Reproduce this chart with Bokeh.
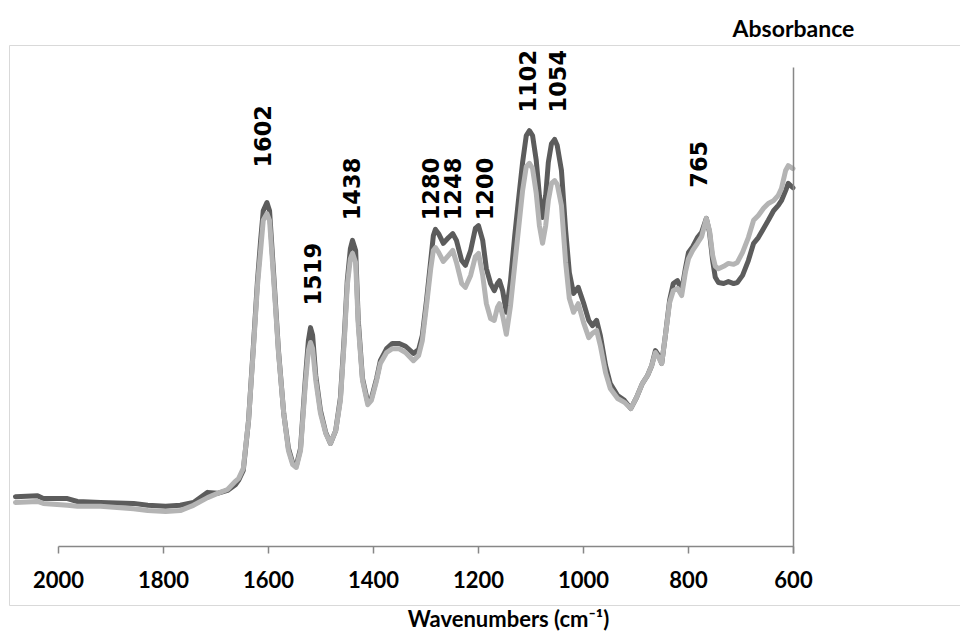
from math import pi
from bokeh.plotting import figure
from bokeh.models import Range1d, ColumnDataSource
from bokeh.core.properties import value
from bokeh.embed import file_html
from bokeh.resources import INLINE

# ---- data ----
wavenumber = [2082, 2040, 2029, 1983, 1964, 1920, 1857, 1830, 1796, 1768, 1743, 1716, 1697, 1678,
              1663, 1657, 1648, 1638, 1629, 1621, 1615, 1610, 1603, 1598, 1590, 1581, 1571, 1562,
              1554, 1547, 1539, 1530, 1524, 1520, 1516, 1510, 1501, 1491, 1482, 1472, 1463, 1455,
              1450, 1444, 1440, 1434, 1429, 1421, 1411, 1404, 1394, 1387, 1375, 1364, 1352, 1339,
              1324, 1314, 1307, 1299, 1291, 1286, 1282, 1276, 1267, 1257, 1249, 1242, 1232, 1225,
              1215, 1206, 1200, 1192, 1185, 1177, 1170, 1164, 1160, 1154, 1147, 1139, 1131, 1124,
              1116, 1109, 1103, 1097, 1090, 1084, 1078, 1072, 1067, 1061, 1055, 1050, 1042, 1034,
              1027, 1019, 1010, 1000, 990, 983, 975, 968, 958, 949, 935, 922, 910, 899, 888, 878,
              870, 863, 857, 851, 844, 836, 829, 821, 813, 806, 800, 792, 783, 775, 766, 760, 754,
              749, 743, 733, 724, 714, 707, 697, 686, 676, 667, 657, 648, 638, 629, 623, 615, 610, 601]

absorbance_dark = [0.104, 0.106, 0.100, 0.100, 0.094, 0.092, 0.090, 0.086, 0.084, 0.086, 0.092, 0.113, 0.111, 0.117,
                   0.129, 0.138, 0.159, 0.263, 0.415, 0.555, 0.639, 0.701, 0.718, 0.701, 0.566, 0.409, 0.278, 0.205,
                   0.175, 0.169, 0.205, 0.347, 0.430, 0.457, 0.441, 0.357, 0.284, 0.238, 0.215, 0.242, 0.311, 0.451,
                   0.555, 0.622, 0.639, 0.618, 0.472, 0.351, 0.301, 0.309, 0.351, 0.388, 0.413, 0.424, 0.424, 0.418,
                   0.403, 0.411, 0.441, 0.514, 0.597, 0.649, 0.662, 0.653, 0.633, 0.645, 0.653, 0.639, 0.597, 0.587,
                   0.618, 0.664, 0.670, 0.639, 0.580, 0.549, 0.534, 0.549, 0.555, 0.534, 0.489, 0.555, 0.649, 0.722,
                   0.802, 0.858, 0.868, 0.858, 0.806, 0.733, 0.687, 0.733, 0.802, 0.841, 0.850, 0.837, 0.785, 0.660,
                   0.572, 0.528, 0.541, 0.509, 0.472, 0.461, 0.472, 0.441, 0.378, 0.340, 0.315, 0.305, 0.288, 0.311, 0.340, 0.357,
                   0.378, 0.409, 0.399, 0.382, 0.441, 0.514, 0.549, 0.555, 0.534, 0.580, 0.614, 0.626, 0.645, 0.656, 0.685, 0.656, 0.597,
                   0.562, 0.551, 0.549, 0.553, 0.549, 0.551, 0.566, 0.597, 0.633, 0.645, 0.664, 0.681, 0.701, 0.712, 0.722, 0.743, 0.758, 0.749]

absorbance_light = [0.092, 0.094, 0.090, 0.086, 0.084, 0.084, 0.079, 0.075, 0.073, 0.075, 0.086, 0.102, 0.111, 0.119,
                    0.136, 0.142, 0.163, 0.263, 0.409, 0.545, 0.618, 0.681, 0.695, 0.681, 0.555, 0.405, 0.278, 0.200,
                    0.171, 0.165, 0.200, 0.336, 0.409, 0.426, 0.413, 0.347, 0.278, 0.236, 0.215, 0.242, 0.305, 0.441,
                    0.545, 0.601, 0.612, 0.593, 0.461, 0.347, 0.296, 0.305, 0.347, 0.382, 0.405, 0.413, 0.413, 0.405,
                    0.388, 0.399, 0.430, 0.503, 0.580, 0.618, 0.624, 0.614, 0.595, 0.608, 0.618, 0.593, 0.549, 0.541,
                    0.566, 0.605, 0.612, 0.566, 0.507, 0.476, 0.472, 0.499, 0.507, 0.482, 0.443, 0.503, 0.587, 0.660,
                    0.743, 0.793, 0.800, 0.789, 0.737, 0.670, 0.633, 0.670, 0.722, 0.758, 0.764, 0.756, 0.712, 0.593,
                    0.518, 0.489, 0.507, 0.468, 0.436, 0.445, 0.451, 0.420, 0.363, 0.330, 0.309, 0.301, 0.288, 0.311, 0.340, 0.357,
                    0.378, 0.405, 0.395, 0.382, 0.441, 0.509, 0.534, 0.539, 0.524, 0.572, 0.601, 0.618, 0.633, 0.647, 0.685, 0.660, 0.608,
                    0.585, 0.580, 0.585, 0.591, 0.589, 0.593, 0.614, 0.645, 0.681, 0.691, 0.706, 0.716, 0.722, 0.733, 0.747, 0.785, 0.795, 0.789]

peak_labels = ["1602", "1519", "1438", "1280", "1248", "1200", "1102", "1054", "765"]
x_ticks = [2000, 1800, 1600, 1400, 1200, 1000, 800, 600]
tick_labels = [str(t) for t in x_ticks]
x_title = "Wavenumbers (cm\u207b\u00b9)"
y_title = "Absorbance"

# ---- layout (not data): the whole canvas is the plotting frame ----
W, H = 960, 635
PX = 0.525          # pixels per wavenumber unit
PY = 479.0          # pixels per absorbance unit
X0_PIX, Y0_PIX = 58, 546   # canvas position of (2000, 0)

def wx(px):  # canvas x pixel -> wavenumber
    return 2000 + (X0_PIX - px) / PX

def vy(py):  # canvas y pixel -> absorbance
    return (Y0_PIX - py) / PY

label_x = [1611, 1516, 1442, 1291, 1249, 1189, 1107, 1050, 781]
label_y = [0.791, 0.503, 0.681, 0.681, 0.681, 0.681, 0.906, 0.906, 0.749]

DARK = "#5c5c5c"
LIGHT = "#b4b4b4"
AXIS = "#878787"
TICK_LEN = vy(Y0_PIX + 7)

p = figure(frame_width=W, frame_height=H,
           x_range=Range1d(wx(0), wx(W)), y_range=Range1d(vy(H), vy(0)),
           output_backend="svg", toolbar_location=None,
           x_axis_location=None, y_axis_location=None, min_border=0)
p.background_fill_color = "white"
p.border_fill_color = "white"
p.outline_line_color = None
p.grid.visible = False

# light chart-area border
p.quad(left=[wx(9)], right=[wx(W + 10)], top=[vy(45)], bottom=[vy(605)],
       fill_color=None, line_color="#d9d9d9", line_width=1)

# curves
src = ColumnDataSource(dict(w=wavenumber, d=absorbance_dark, l=absorbance_light))
p.line("w", "d", source=src, line_color=DARK, line_width=5, line_join="round", line_cap="round")
p.line("w", "l", source=src, line_color=LIGHT, line_width=5, line_join="round", line_cap="round")

# x axis: line, ticks, labels
p.segment(x0=[max(x_ticks)], y0=[0], x1=[min(x_ticks)], y1=[0], line_color=AXIS, line_width=1.5)
p.segment(x0=x_ticks, y0=[0] * len(x_ticks), x1=x_ticks, y1=[TICK_LEN] * len(x_ticks),
          line_color=AXIS, line_width=1.5)
p.text(x=x_ticks, y=[vy(579)] * len(x_ticks), text=tick_labels,
       text_align="center", text_baseline="middle", text_font=value("Lato"),
       text_font_style="bold", text_font_size=value("22px"), text_color="black")

# vertical axis line at the low-wavenumber end
p.segment(x0=[min(x_ticks)], y0=[TICK_LEN], x1=[min(x_ticks)], y1=[1.0], line_color=AXIS, line_width=1.5)

# axis titles
p.text(x=[min(x_ticks)], y=[vy(27)], text=[y_title], text_align="center", text_baseline="middle",
       text_font=value("Lato"), text_font_style="bold", text_font_size=value("23px"), text_color="black")
p.text(x=[wx(508)], y=[vy(618)], text=[x_title], text_align="center", text_baseline="middle",
       text_font=value("Lato"), text_font_style="bold", text_font_size=value("22px"), text_color="black")

# peak annotations
lab_src = ColumnDataSource(dict(x=label_x, y=label_y, t=peak_labels))
p.text(x="x", y="y", text="t", source=lab_src, angle=pi / 2,
       text_align="left", text_baseline="middle",
       text_font=value("DejaVu Sans"), text_font_style="bold",
       text_font_size=value("22.5px"), text_color="black")

open("out.html", "w").write(file_html(p, INLINE))
